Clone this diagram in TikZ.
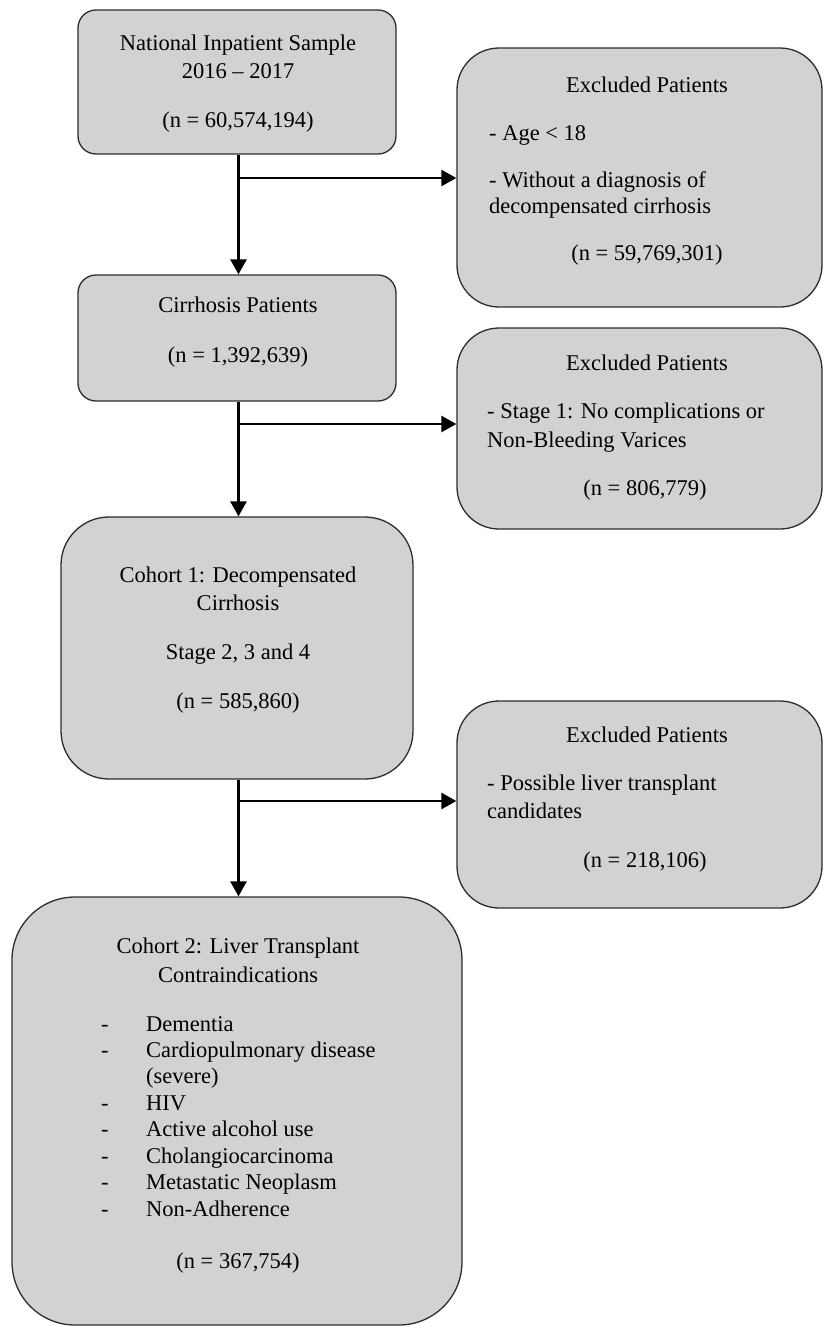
\documentclass[tikz,border=0pt]{standalone}
\usepackage{fontspec}
\setmainfont{Liberation Serif}
\usetikzlibrary{arrows.meta}
\definecolor{boxfill}{RGB}{210,210,210}
\definecolor{boxline}{RGB}{45,45,45}
\tikzset{
  box/.style={draw=boxline, line width=1.3pt, fill=boxfill, inner sep=0pt},
  txt/.style={inner sep=0pt, anchor=base, font=\fontsize{22.5}{27}\selectfont},
  ltxt/.style={txt, anchor=base west},
  flow/.style={line width=2.6pt, -{Triangle[length=15pt,width=16pt]}},
}
\begin{document}
\begin{tikzpicture}[x=1pt,y=-1pt]
\useasboundingbox (0,0) rectangle (824,1326);
% boxes
\node[box, rounded corners=18pt, minimum width=318pt, minimum height=144pt] (b1) at (237,82) {};
\node[box, rounded corners=18pt, minimum width=318pt, minimum height=126pt] (b2) at (237,338) {};
\node[box, rounded corners=48pt, minimum width=352pt, minimum height=262pt] (b3) at (237,648) {};
\node[box, rounded corners=63pt, minimum width=450pt, minimum height=428pt] (b4) at (237,1111) {};
\node[box, rounded corners=42pt, minimum width=365pt, minimum height=259pt] (e1) at (639.5,177.5) {};
\node[box, rounded corners=42pt, minimum width=365pt, minimum height=201pt] (e2) at (639.5,428.5) {};
\node[box, rounded corners=42pt, minimum width=365pt, minimum height=207pt] (e3) at (639.5,804.5) {};
% texts box 1
\node[txt] (t11) at (238,50) {National Inpatient Sample};
\node[txt] (t12) at (238,78) {2016 – 2017};
\node[txt] (t13) at (238,127) {(n = 60,574,194)};
% box 2
\node[txt] (t21) at (238,312) {Cirrhosis Patients};
\node[txt] (t22) at (238,362) {(n = 1,392,639)};
% box 3
\node[txt] (t31) at (238,582) {Cohort 1: Decompensated};
\node[txt] (t32) at (238,610) {Cirrhosis};
\node[txt] (t33) at (238,659) {Stage 2, 3 and 4};
\node[txt] (t34) at (238,708) {(n = 585,860)};
% box 4
\node[txt] (t41) at (238,953) {Cohort 2: Liver Transplant};
\node[txt] (t42) at (238,982) {Contraindications};
\foreach \y/\lab/\dash in {1031/Dementia/1, 1057/Cardiopulmonary disease/1, 1083/(severe)/0, 1110/HIV/1, 1136/Active alcohol use/1, 1163/Cholangiocarcinoma/1, 1189/Metastatic Neoplasm/1, 1216/Non-Adherence/1}{
  \node[ltxt] (li\y) at (146,\y) {\lab};
  \ifnum\dash=1 \node[ltxt] (ld\y) at (101,\y) {-};\fi
}
\node[txt] (t43) at (238,1268) {(n = 367,754)};
% excluded 1
\node[txt] (x11) at (647,92) {Excluded Patients};
\node[ltxt] (x12) at (489,140) {- Age < 18};
\node[ltxt] (x13) at (489,187) {- Without a diagnosis of};
\node[ltxt] (x14) at (489,213) {decompensated cirrhosis};
\node[txt] (x15) at (647,260) {(n = 59,769,301)};
% excluded 2
\node[txt] (x21) at (647,370) {Excluded Patients};
\node[ltxt] (x22) at (487,418) {- Stage 1: No complications or};
\node[ltxt] (x23) at (487,447) {Non-Bleeding Varices};
\node[txt] (x24) at (645,495) {(n = 806,779)};
% excluded 3
\node[txt] (x31) at (647,742) {Excluded Patients};
\node[ltxt] (x32) at (487,790) {- Possible liver transplant};
\node[ltxt] (x33) at (487,818) {candidates};
\node[txt] (x34) at (645,867) {(n = 218,106)};
% connectors
\coordinate (j1) at (238.5,178);
\coordinate (j2) at (238.5,424);
\coordinate (j3) at (238.5,801);
\draw[flow] (b1.south -| j1) -- (b2.north -| j1);
\draw[flow] (b2.south -| j2) -- (b3.north -| j2);
\draw[flow] (b3.south -| j3) -- (b4.north -| j3);
\draw[flow] (j1) -- (j1 -| e1.west);
\draw[flow] (j2) -- (j2 -| e2.west);
\draw[flow] (j3) -- (j3 -| e3.west);
\end{tikzpicture}
\end{document}
